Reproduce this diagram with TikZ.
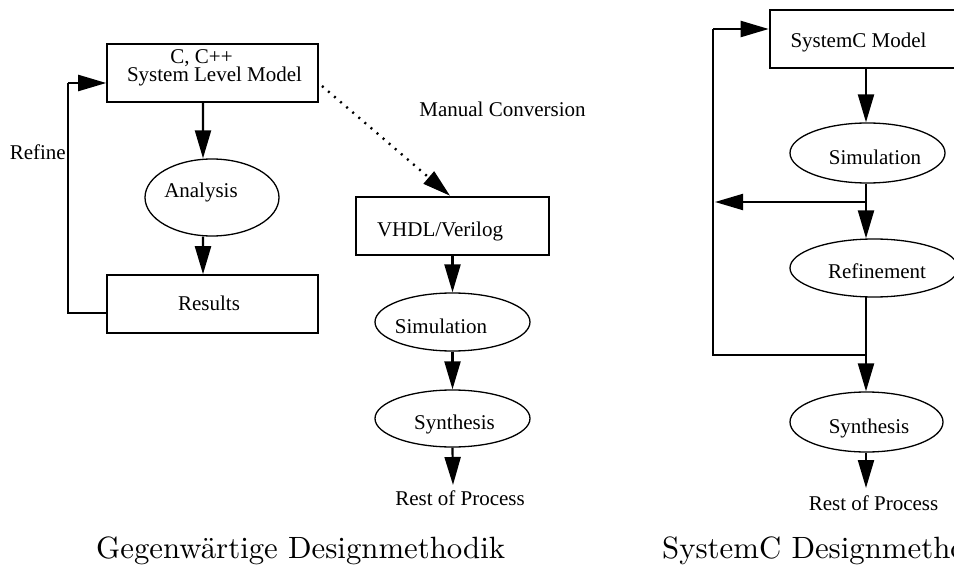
\documentclass[tikz,border=0pt]{standalone}
\usepackage{fontspec}
\newfontfamily\tms{Liberation Serif}
\newfontfamily\capfont[Extension=.otf]{lmroman10-regular}
\usetikzlibrary{arrows.meta,shapes.geometric}
\begin{document}
\begin{tikzpicture}[x=1bp,y=-1bp,
  lbl/.style={font=\tms\fontsize{21bp}{21bp}\selectfont, inner sep=0pt, anchor=base},
  captiontext/.style={font=\capfont\fontsize{30.8bp}{32bp}\selectfont, inner sep=0pt, anchor=base west},
  thinbox/.style={draw, line width=1.5bp, inner sep=0pt},
  thickbox/.style={draw, line width=2.6bp, inner sep=0pt},
  oval/.style={ellipse, draw, line width=1.3bp, inner sep=0pt},
  arr/.style={line width=2.2bp, -{Triangle[length=28bp,width=16bp]}},
  ln/.style={line width=2.2bp},
  loopln/.style={line width=2.8bp},
  dotarr/.style={line width=2.4bp, dash pattern=on 2bp off 6bp, -{Triangle[length=28bp,width=16bp]}}]
\useasboundingbox (0,0) rectangle (954,567);
\clip (0,0) rectangle (954,567);

% ---------- left diagram ----------
\node[thinbox, minimum width=211bp, minimum height=58bp] (slm) at (212.5,73) {};
\node[lbl] (slmA) at (201.5,64) {C, C++};
\node[lbl] (slmB) at (214.5,82) {System Level Model};
\node[oval, minimum width=134bp, minimum height=77bp] (ana) at (212,197.5) {};
\node[lbl] (anaT) at (201,198) {Analysis};
\node[thinbox, minimum width=211bp, minimum height=58bp] (res) at (212.5,304) {};
\node[lbl] (resT) at (209,310) {Results};
\node[lbl, anchor=base east] (refine) at (66,160) {Refine};

\draw[arr] ([xshift=-9.5bp]slm.south) -- ([xshift=-9bp]ana.north);
\draw[arr] ([xshift=-9bp]ana.south) -- ([xshift=-9.5bp]res.north);
\coordinate (lp1) at (68,313);
\coordinate (lp2) at (68,83);
\draw[ln] (lp1 -| res.west) -- (lp1) -- (lp2);
\draw[arr] (lp2) -- (lp2 -| slm.west);

\node[thickbox, minimum width=193bp, minimum height=58bp] (hdl) at (452.5,226) {};
\node[lbl] (hdlT) at (440,237) {VHDL/Verilog};
\node[lbl] (manual) at (502.5,117) {Manual Conversion};
\coordinate (ds) at (322,86);
\draw[dotarr] (ds) -- ([xshift=-2.5bp]hdl.north);

\node[oval, minimum width=155bp, minimum height=58bp] (sim1) at (452.5,322) {};
\node[lbl] (sim1T) at (441,333) {Simulation};
\node[oval, minimum width=155bp, minimum height=57bp] (syn1) at (452.5,418.5) {};
\node[lbl] (syn1T) at (454.5,429) {Synthesis};
\node[lbl] (rest1) at (460,505) {Rest of Process};
\coordinate (rest1top) at (453,485);

\draw[arr] (hdl.south) -- (sim1.north);
\draw[arr] (sim1.south) -- (syn1.north);
\draw[arr] (syn1.south) -- (rest1top);

% ---------- right diagram ----------
\node[thickbox, minimum width=192bp, minimum height=58bp] (scm) at (866,39) {};
\node[lbl] (scmT) at (858.5,48) {SystemC Model};
\node[oval, minimum width=155bp, minimum height=60bp] (sim2) at (867.5,153) {};
\node[lbl] (sim2T) at (875,165) {Simulation};
\node[oval, minimum width=168bp, minimum height=58bp] (ref) at (874,268) {};
\node[lbl] (refT) at (877,279) {Refinement};
\node[oval, minimum width=153bp, minimum height=60bp] (syn2) at (866.5,422) {};
\node[lbl] (syn2T) at (869,433) {Synthesis};
\node[lbl] (rest2) at (873.5,510) {Rest of Process};

\coordinate (j1) at (866,202);
\coordinate (j2) at (866,355);
\coordinate (lq2) at (713,355);
\coordinate (lq3) at (713,29);
\coordinate (lqtip) at (715,202);
\coordinate (rest2top) at (866,488);

\draw[arr] (scm.south) -- (sim2.north -| j1);
\draw[ln] (sim2.south -| j1) -- (j1);
\draw[arr, line width=2bp] (j1) -- (lqtip);
\draw[arr] (j1) -- (ref.north -| j1);
\draw[ln] ([yshift=1bp]ref.south -| j1) -- (j2);
\draw[loopln] (j2) -- (lq2) -- (lq3);
\draw[arr] (lq3) -- (lq3 -| scm.west);
\draw[arr] (j2) -- (syn2.north -| j1);
\draw[arr] (syn2.south -| j1) -- (rest2top);

% ---------- captions ----------
\node[captiontext] (capL) at (96,558) {Gegenwärtige Designmethodik};
\node[captiontext] (capR) at (662,558) {SystemC Designmethodik};
\end{tikzpicture}
\end{document}
